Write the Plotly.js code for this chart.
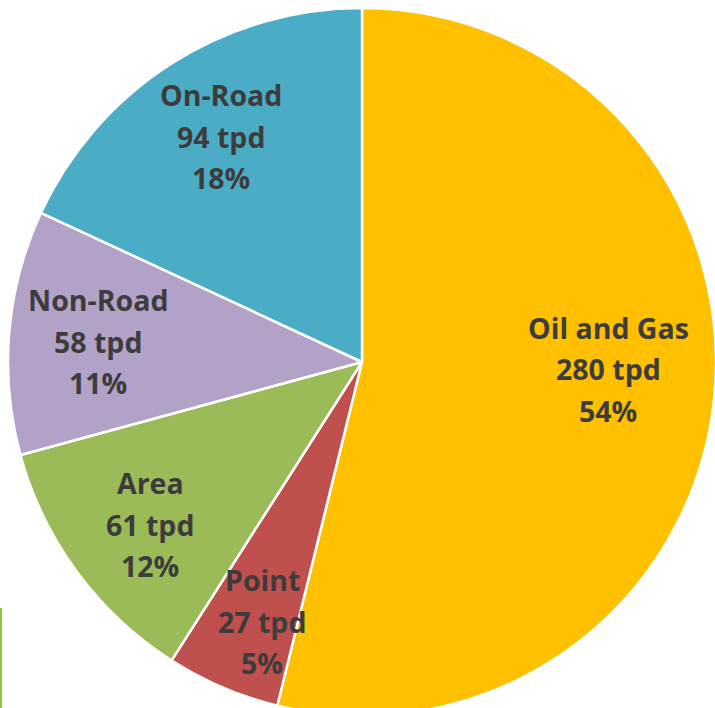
<!DOCTYPE html>
<html>
<head>
<meta charset="utf-8">
<script src="https://cdn.plot.ly/plotly-3.0.1.min.js"></script>
<style>
html, body { margin: 0; padding: 0; overflow: hidden; background: #fff; }
#chart { width: 720px; height: 720px; }
</style>
</head>
<body>
<div id="chart"></div>
<script>
// ---- data ----
const categories = ["Oil and Gas", "Point", "Area", "Non-Road", "On-Road"];
const tpdValues = [280, 27, 61, 58, 94];
const percentLabels = ["54%", "5%", "12%", "11%", "18%"];
const sliceColors = ["#FFC000", "#C0504D", "#9BBB59", "#B2A2C7", "#4BACC6"];

// ---- layout helpers (pixel positions of the label centres) ----
const W = 720, H = 720;
const labelPos = [
  [608, 328], // Oil and Gas
  [262, 580], // Point
  [150, 483], // Area
  [98, 300],  // Non-Road
  [221, 95]   // On-Road
];
const lineGap = 41.5;

const annotations = [];
categories.forEach((cat, i) => {
  const lines = [cat, tpdValues[i] + " tpd", percentLabels[i]];
  lines.forEach((t, j) => {
    annotations.push({
      text: t,
      xref: "paper", yref: "paper",
      x: labelPos[i][0] / W,
      y: 1 - (labelPos[i][1] + j * lineGap) / H,
      xanchor: "center", yanchor: "middle",
      showarrow: false,
      font: { family: "Open Sans, sans-serif", size: 28.5, color: "#3c3c3c", weight: "bold" }
    });
  });
});

const trace = {
  type: "pie",
  labels: categories,
  values: tpdValues,
  sort: false,
  direction: "clockwise",
  rotation: 0,
  textinfo: "none",
  hoverinfo: "label+value+percent",
  marker: { colors: sliceColors, line: { color: "#ffffff", width: 2.5 } },
  domain: { x: [8 / W, 716 / W], y: [1 - 716 / H, 1 - 8 / H] }
};

const layout = {
  width: W, height: H,
  margin: { l: 0, r: 0, t: 0, b: 0, pad: 0 },
  showlegend: false,
  paper_bgcolor: "#ffffff",
  annotations: annotations,
  shapes: [{
    type: "rect", xref: "paper", yref: "paper",
    x0: 0, x1: 2 / W, y0: 1 - 708 / H, y1: 1 - 608 / H,
    fillcolor: "#8DC63F", line: { width: 0 }
  }]
};

Plotly.newPlot("chart", [trace], layout, { staticPlot: true, displayModeBar: false });
</script>
</body>
</html>
